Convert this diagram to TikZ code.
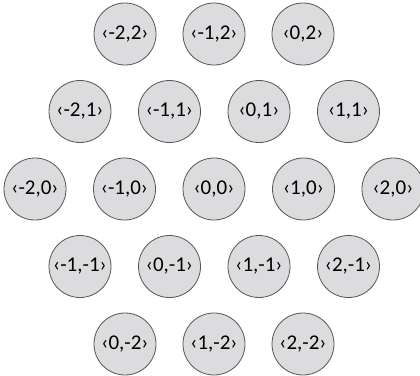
\documentclass[tikz,border=0pt]{standalone}
\usepackage{fontspec}
\setmainfont{Carlito}
\definecolor{cfill}{HTML}{DCDCDE}
\definecolor{cline}{HTML}{555555}
\tikzset{cell/.style={circle,draw=cline,fill=cfill,line width=0.8pt,minimum size=62pt,inner sep=0pt,font=\fontsize{21}{24}\selectfont}}
\begin{document}
\begin{tikzpicture}[x=1pt,y=-1pt]
\useasboundingbox (0,0) rectangle (420,375);
\clip (0,0) rectangle (420,375);
% row 0
\node[cell] (m2p2) at (125,34) {‹-2,2›};
\node[cell] (m1p2) at (214,34) {‹-1,2›};
\node[cell] (z0p2) at (303,34) {‹0,2›};
% row 1
\node[cell] (m2p1) at (80,111.5) {‹-2,1›};
\node[cell] (m1p1) at (169.5,111.5) {‹-1,1›};
\node[cell] (z0p1) at (259,111.5) {‹0,1›};
\node[cell] (p1p1) at (348.5,111.5) {‹1,1›};
% row 2
\node[cell] (m2z0) at (35,189) {‹-2,0›};
\node[cell] (m1z0) at (124.5,189) {‹-1,0›};
\node[cell] (z0z0) at (214,189) {‹0,0›};
\node[cell] (p1z0) at (303.5,189) {‹1,0›};
\node[cell] (p2z0) at (393,189) {‹2,0›};
% row 3
\node[cell] (m1m1) at (80,266.5) {‹-1,-1›};
\node[cell] (z0m1) at (169.5,266.5) {‹0,-1›};
\node[cell] (p1m1) at (259,266.5) {‹1,-1›};
\node[cell] (p2m1) at (348.5,266.5) {‹2,-1›};
% row 4
\node[cell] (z0m2) at (125,344) {‹0,-2›};
\node[cell] (p1m2) at (214,344) {‹1,-2›};
\node[cell] (p2m2) at (303,344) {‹2,-2›};
\end{tikzpicture}
\end{document}
